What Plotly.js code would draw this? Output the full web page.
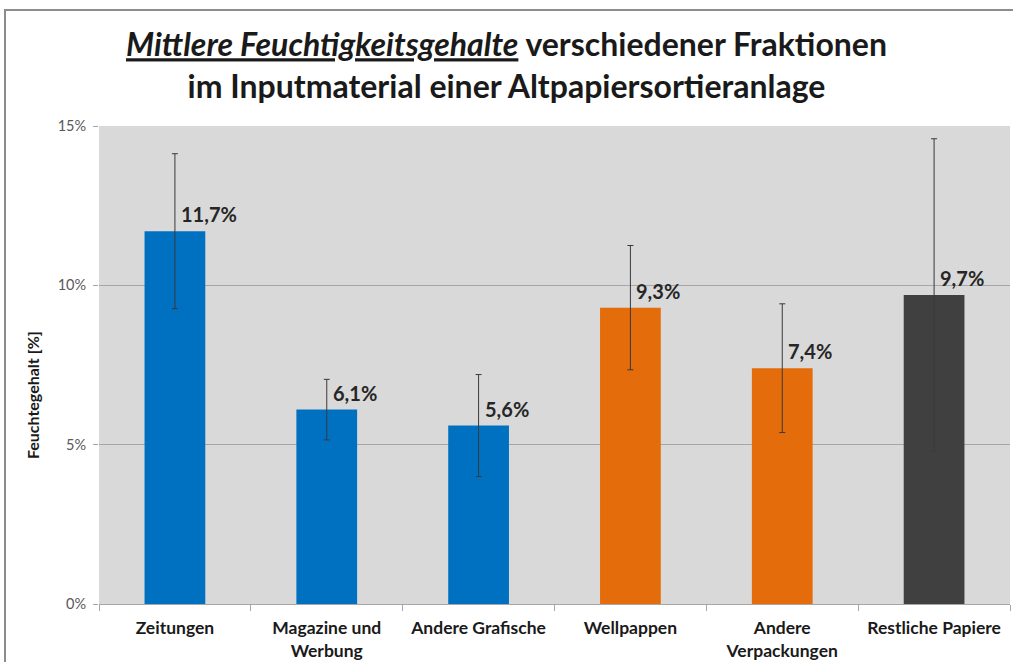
<!DOCTYPE html>
<html>
<head>
<meta charset="utf-8">
<script src="https://cdn.plot.ly/plotly-3.0.1.min.js"></script>
<style>
  html, body { margin: 0; padding: 0; background: #ffffff; }
  #wrap { position: relative; width: 1013px; height: 662px; overflow: hidden; }
  #chart { position: absolute; left: 0; top: 0; width: 1013px; height: 662px; }
  #frame { position: absolute; left: 4px; top: 9px; width: 1100px; height: 700px;
           border-left: 2px solid #8c8c8c; border-top: 2px solid #8c8c8c; pointer-events: none; }
</style>
</head>
<body>
<div id="wrap">
  <div id="chart"></div>
  <div id="frame"></div>
</div>
<script>
// ---- data ----
const categories = ["Zeitungen", "Magazine und<br>Werbung", "Andere Grafische", "Wellpappen", "Andere<br>Verpackungen", "Restliche Papiere"];
const values = [11.7, 6.1, 5.6, 9.3, 7.4, 9.7];          // mean moisture content [%]
const errors = [2.43, 0.95, 1.6, 1.95, 2.02, 4.9];       // +/- deviation [%]
const barColors = ["#0070C0", "#0070C0", "#0070C0", "#E46C0A", "#E46C0A", "#404040"];
const yTickVals = [0, 5, 10, 15];
const yTickText = ["0%", "5%", "10%", "15%"];
const yAxisTitle = "Feuchtegehalt [%]";

const fmt = v => v.toFixed(1).replace(".", ",") + "%";
const FONT = "Lato, 'Open Sans', sans-serif";

const trace = {
  type: "bar",
  x: categories,
  y: values,
  marker: { color: barColors, line: { width: 0 } },
  error_y: { type: "data", array: errors, visible: true, color: "#3a3a3a", thickness: 1, width: 3 },
  hoverinfo: "skip"
};

const annotations = categories.map((c, i) => ({
  x: c, y: values[i], xref: "x", yref: "y",
  text: fmt(values[i]),
  showarrow: false,
  xanchor: "left", yanchor: "middle",
  xshift: 4, yshift: 17,
  font: { family: FONT, size: 20, color: "#262626", weight: 700 }
}));

annotations.push({
  xref: "paper", yref: "paper", x: 0, y: 0.437,
  xshift: -67, xanchor: "center", yanchor: "middle",
  textangle: -90, showarrow: false,
  text: yAxisTitle,
  font: { family: FONT, size: 16, color: "#1a1a1a", weight: 700 }
});

const layout = {
  width: 1013, height: 662,
  margin: { l: 99, r: 3, t: 126, b: 58 },
  paper_bgcolor: "#ffffff",
  plot_bgcolor: "#D9D9D9",
  bargap: 0.6,
  showlegend: false,
  title: {
    text: "<i><u>Mittlere Feuchtigkeitsgehalte</u></i> verschiedener Fraktionen<br>im Inputmaterial einer Altpapiersortieranlage",
    x: 0.5, xanchor: "center", y: 0.915, yanchor: "top",
    font: { family: FONT, size: 32, color: "#1a1a1a", weight: 700 }
  },
  xaxis: {
    type: "category",
    tickson: "boundaries",
    ticks: "outside", ticklen: 6, tickcolor: "#a6a6a6",
    ticklabelstandoff: 8,
    showline: true, linecolor: "#a6a6a6", linewidth: 1,
    showgrid: false,
    tickfont: { family: FONT, size: 17.5, color: "#1a1a1a", weight: 700 },
    fixedrange: true
  },
  yaxis: {
    range: [0, 15],
    tickvals: yTickVals, ticktext: yTickText,
    ticks: "outside", ticklen: 5, tickcolor: "#a6a6a6",
    ticklabelstandoff: 4,
    showgrid: true, gridcolor: "#a6a6a6", gridwidth: 1,
    zeroline: false,
    showline: false,
    tickfont: { family: FONT, size: 14.5, color: "#595959" },
    fixedrange: true
  },
  annotations: annotations
};

Plotly.newPlot("chart", [trace], layout, { displayModeBar: false, staticPlot: true });
</script>
</body>
</html>
